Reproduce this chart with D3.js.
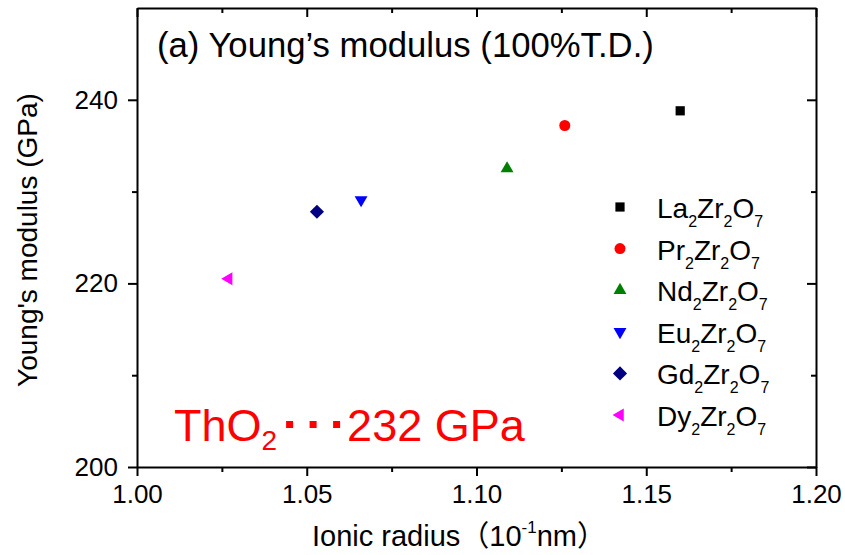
<!DOCTYPE html>
<html>
<head>
<meta charset="utf-8">
<script src="https://cdn.jsdelivr.net/npm/d3@7"></script>
<style>
  body { margin: 0; background: #fff; }
  svg { display: block; font-family: "Liberation Sans", Arial, sans-serif; }
  .axis path, .axis line { stroke: #000; stroke-width: 2px; }
  .axis text { font-family: "Liberation Sans", Arial, sans-serif; fill: #000; }
</style>
</head>
<body>
<div id="canvas"></div>
<script>
// data
var compounds = ['La', 'Pr', 'Nd', 'Eu', 'Gd', 'Dy'];
var ionicRadius = [1.160, 1.126, 1.109, 1.066, 1.053, 1.027];
var youngs = [238.8, 237.2, 232.5, 229.1, 227.8, 220.5];
var colors = ['#000000', '#ff0000', '#008000', '#0000ff', '#000080', '#ff00ff'];
var shapes = ['square', 'circle', 'triUp', 'triDown', 'diamond', 'triLeft'];

var xTicks = [1.00, 1.05, 1.10, 1.15, 1.20],
    xMinor = [1.025, 1.075, 1.125, 1.175],
    yTicks = [200, 220, 240],
    yMinor = [210, 230];

//Boilerplate
var W = 845, H = 555;
var m = {t: 8, r: 29, b: 88, l: 137},
    w = W - m.l - m.r,
    h = H - m.t - m.b;

var svg = d3.select('#canvas').append('svg')
    .attr('width', W).attr('height', H);

var plot = svg.append('g')
    .attr('transform', 'translate(' + m.l + ',' + m.t + ')');

var x = d3.scaleLinear().domain([1.00, 1.20]).range([0, w]),
    y = d3.scaleLinear().domain([200, 250]).range([h, 0]);

// axes, major ticks
plot.append('g').attr('class', 'axis')
    .attr('transform', 'translate(0,' + h + ')')
    .call(d3.axisBottom(x).tickValues(xTicks).tickSize(9).tickSizeOuter(0).tickPadding(9)
        .tickFormat(d3.format('.2f')))
    .selectAll('text').style('font-size', '26px');

plot.append('g').attr('class', 'axis')
    .call(d3.axisTop(x).tickValues(xTicks).tickSize(-9).tickSizeOuter(0).tickFormat(''));

plot.append('g').attr('class', 'axis')
    .call(d3.axisLeft(y).tickValues(yTicks).tickSize(9).tickSizeOuter(0).tickPadding(10)
        .tickFormat(d3.format('d')))
    .selectAll('text').style('font-size', '26px');

plot.append('g').attr('class', 'axis')
    .attr('transform', 'translate(' + w + ',0)')
    .call(d3.axisRight(y).tickValues(yTicks).tickSize(-9).tickSizeOuter(0).tickFormat(''));

// minor ticks
plot.append('g').attr('class', 'axis')
    .attr('transform', 'translate(0,' + h + ')')
    .call(d3.axisBottom(x).tickValues(xMinor).tickSize(5).tickFormat(''))
    .select('.domain').remove();
plot.append('g').attr('class', 'axis')
    .call(d3.axisTop(x).tickValues(xMinor).tickSize(-5).tickFormat(''))
    .select('.domain').remove();
plot.append('g').attr('class', 'axis')
    .call(d3.axisLeft(y).tickValues(yMinor).tickSize(5).tickFormat(''))
    .select('.domain').remove();
plot.append('g').attr('class', 'axis')
    .attr('transform', 'translate(' + w + ',0)')
    .call(d3.axisRight(y).tickValues(yMinor).tickSize(-5).tickFormat(''))
    .select('.domain').remove();

// markers
function marker(shape) {
    if (shape == 'square') return {d: d3.symbol(d3.symbolSquare, 85)(), rot: 0};
    if (shape == 'circle') return {d: d3.symbol(d3.symbolCircle, 95)(), rot: 0};
    if (shape == 'diamond') return {d: d3.symbol(d3.symbolSquare, 100)(), rot: 45};
    var tri = d3.symbol(d3.symbolTriangle, 72)();
    if (shape == 'triUp') return {d: tri, rot: 0};
    if (shape == 'triDown') return {d: tri, rot: 180};
    return {d: tri, rot: -90};
}

var data = compounds.map(function(c, i){
    return {name: c, x: ionicRadius[i], y: youngs[i], color: colors[i], shape: shapes[i]};
});

plot.selectAll('.point')
    .data(data)
    .enter()
    .append('path').attr('class', 'point')
    .attr('d', function(d){ return marker(d.shape).d; })
    .attr('transform', function(d){
        return 'translate(' + x(d.x) + ',' + y(d.y) + ') rotate(' + marker(d.shape).rot + ')';
    })
    .style('fill', function(d){ return d.color; });

// title inside plot
plot.append('text')
    .attr('x', 20).attr('y', 49)
    .style('font-size', '34.7px')
    .text('(a) Young\u2019s modulus (100%T.D.)');

// legend
var legend = svg.append('g').attr('transform', 'translate(620,207)');
var rows = legend.selectAll('.row')
    .data(data)
    .enter()
    .append('g').attr('class', 'row')
    .attr('transform', function(d, i){ return 'translate(0,' + (i * 41.6) + ')'; });

rows.append('path')
    .attr('d', function(d){ return marker(d.shape).d; })
    .attr('transform', function(d){ return 'rotate(' + marker(d.shape).rot + ')'; })
    .style('fill', function(d){ return d.color; });

var lt = rows.append('text')
    .attr('x', 37).attr('y', 11)
    .style('font-size', '28px');
function formula(t, a) {
    t.append('tspan').text(a);
    t.append('tspan').attr('dy', 9).style('font-size', '16px').text('2');
    t.append('tspan').attr('dy', -9).text('Zr');
    t.append('tspan').attr('dy', 9).style('font-size', '16px').text('2');
    t.append('tspan').attr('dy', -9).text('O');
    t.append('tspan').attr('dy', 9).style('font-size', '16px').text('7');
}
lt.each(function(d){ formula(d3.select(this), d.name); });

// ThO2 annotation
var tho = svg.append('text')
    .attr('x', 174).attr('y', 441)
    .style('font-size', '45px').style('fill', '#ff0000');
tho.append('tspan').text('ThO');
tho.append('tspan').attr('dy', 9).style('font-size', '28px').text('2');
var e1 = tho.node().getBBox().x + tho.node().getBBox().width;

svg.selectAll('.dot')
    .data([0, 1, 2])
    .enter()
    .append('rect').attr('class', 'dot')
    .attr('x', function(d){ return e1 + 9 + d * 23.5; })
    .attr('y', 421)
    .attr('width', 7).attr('height', 7)
    .style('fill', '#ff0000');

svg.append('text')
    .attr('x', e1 + 70).attr('y', 441)
    .style('font-size', '45px').style('fill', '#ff0000')
    .text('232 GPa');

// axis titles
var xt = svg.append('text')
    .attr('x', 312).attr('y', 546)
    .style('font-size', '29px');
xt.append('tspan').text('Ionic radius');
xt.append('tspan').style('font-family', '"Noto Sans CJK JP"').text('\uff08');
xt.append('tspan').text('10');
xt.append('tspan').attr('dy', -13).style('font-size', '17px').text('-1');
xt.append('tspan').attr('dy', 13).text('nm');
xt.append('tspan').style('font-family', '"Noto Sans CJK JP"').text('\uff09');

svg.append('text')
    .attr('transform', 'translate(37,240) rotate(-90)')
    .attr('text-anchor', 'middle')
    .style('font-size', '28px')
    .text("Young's modulus (GPa)");
</script>
</body>
</html>
